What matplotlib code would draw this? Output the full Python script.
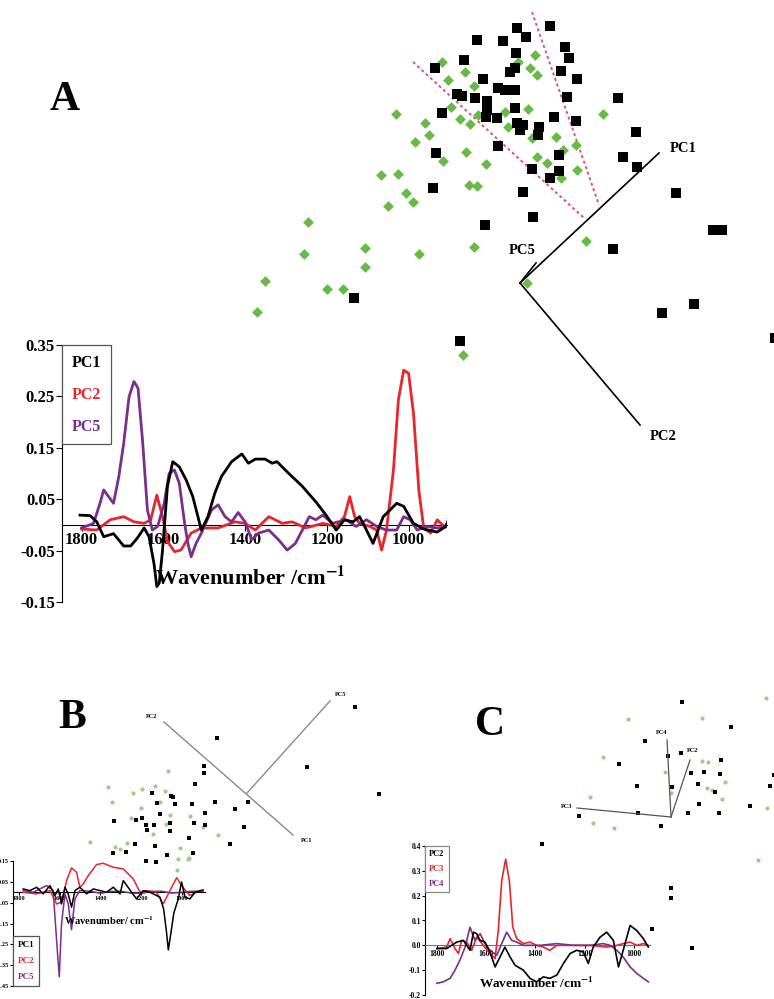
import matplotlib.pyplot as plt
from matplotlib.lines import Line2D

plt.rcParams['font.family'] = ['Liberation Serif', 'DejaVu Serif']
plt.rcParams['font.weight'] = 'bold'
plt.rcParams['mathtext.fontset'] = 'stix'

RED = '#e8262c'
PURPLE = '#7a2f8f'
GREEN_A = '#66bb44'
GREEN_BC = '#9ccf7e'

# ---------------- panel A : scores (PC1/PC2/PC5 biplot frame) ----------------
a_black_x = [517, 526, 550, 477, 503, 565, 569, 516, 464, 435, 515, 510, 561, 577, 483,
             498, 505, 515, 457, 462, 475, 487, 567, 618, 515, 487, 442, 486, 497, 554,
             576, 517, 523, 520, 539, 538, 636, 498, 436, 559, 623, 637, 532, 559, 550,
             433, 676, 523, 533, 485, 713, 722, 613, 662, 694, 460, 775, 354]
a_black_y = [28, 37, 26, 40, 41, 47, 58, 53, 60, 68, 68, 72, 71, 79, 79,
             88, 90, 90, 94, 96, 98, 101, 97, 98, 108, 110, 113, 117, 118, 117,
             121, 123, 125, 130, 127, 135, 132, 146, 153, 155, 157, 167, 169, 171, 178,
             188, 193, 192, 217, 225, 230, 230, 249, 313, 304, 341, 338, 298]
a_green_x = [442, 465, 448, 474, 518, 535, 530, 537, 396, 425, 429, 415, 451, 460, 470,
             478, 505, 528, 508, 532, 556, 576, 563, 537, 547, 577, 561, 466, 443, 486,
             603, 381, 398, 469, 477, 406, 413, 388, 365, 419, 474, 365, 586, 527, 308,
             304, 265, 327, 343, 257, 463]
a_green_y = [62, 72, 80, 86, 62, 55, 68, 75, 114, 123, 135, 142, 107, 119, 124,
             115, 112, 109, 127, 138, 137, 145, 150, 157, 163, 170, 178, 152, 161, 164,
             114, 175, 174, 185, 186, 193, 202, 206, 248, 254, 247, 267, 241, 283, 222,
             254, 281, 289, 289, 312, 355]
# loading vectors of the biplot (origin, then tips for PC1, PC5, PC2)
a_bi_x = [520, 659, 536, 640]
a_bi_y = [283, 153, 263, 425]
a_bi_names = ['PC1', 'PC5', 'PC2']
# class-separating dotted lines
a_sep1_x, a_sep1_y = [413, 584], [62, 218]
a_sep2_x, a_sep2_y = [532, 599], [12, 205]

# ---------------- panel A : loadings ----------------
a_pc1_wn = [1804, 1779, 1763, 1746, 1722, 1697, 1680, 1664, 1647, 1635, 1623, 1616, 1610,
            1602, 1590, 1577, 1561, 1544, 1528, 1507, 1491, 1474, 1458, 1433, 1408, 1392,
            1375, 1351, 1334, 1322, 1293, 1260, 1227, 1202, 1177, 1157, 1136, 1120, 1103,
            1087, 1062, 1029, 1012, 988, 963, 930, 909, 898]
a_pc1 = [0.019, 0.018, 0.006, -0.023, -0.017, -0.041, -0.041, -0.026, -0.006, -0.023,
         -0.075, -0.120, -0.113, -0.049, 0.075, 0.123, 0.113, 0.087, 0.055, -0.010, 0.016,
         0.062, 0.094, 0.123, 0.138, 0.120, 0.128, 0.128, 0.120, 0.123, 0.100, 0.075,
         0.045, 0.019, -0.010, 0.010, 0.006, 0.016, -0.010, -0.036, 0.016, 0.042, 0.036,
         0.003, -0.008, -0.014, -0.003, 0.019]
a_pc2_wn = [1800, 1763, 1730, 1697, 1672, 1647, 1631, 1616, 1602, 1590, 1573, 1557, 1532,
            1507, 1466, 1425, 1400, 1375, 1342, 1309, 1285, 1252, 1210, 1177, 1157, 1144,
            1132, 1120, 1095, 1078, 1066, 1054, 1037, 1025, 1012, 1000, 988, 975, 963, 946,
            930, 913, 898]
a_pc2 = [-0.008, -0.010, 0.010, 0.016, 0.006, 0.003, 0.010, 0.058, 0.016, -0.032, -0.052,
         -0.049, -0.016, -0.006, -0.006, 0.006, 0.003, -0.010, 0.016, 0.003, 0.006, -0.006,
         0.003, -0.003, 0.016, 0.055, 0.016, 0.003, -0.003, -0.010, -0.049, -0.010, 0.107,
         0.243, 0.301, 0.295, 0.217, 0.068, -0.006, -0.016, 0.010, -0.003, 0.003]
a_pc5_wn = [1800, 1771, 1755, 1746, 1734, 1722, 1709, 1697, 1684, 1672, 1662, 1651, 1639,
            1627, 1614, 1598, 1586, 1573, 1561, 1548, 1540, 1532, 1520, 1507, 1482, 1466,
            1449, 1433, 1417, 1400, 1384, 1367, 1342, 1318, 1297, 1277, 1260, 1243, 1227,
            1210, 1186, 1153, 1128, 1103, 1078, 1054, 1029, 1012, 996, 979, 955, 930, 901]
a_pc5 = [-0.006, 0.003, 0.042, 0.068, 0.055, 0.042, 0.094, 0.159, 0.249, 0.279, 0.266,
         0.165, 0.029, -0.010, -0.003, 0.042, 0.100, 0.107, 0.081, 0.003, -0.036, -0.062,
         -0.036, -0.016, 0.029, 0.039, 0.016, 0.006, 0.024, 0.006, -0.029, -0.016, -0.010,
         -0.029, -0.049, -0.036, -0.010, 0.016, 0.010, 0.019, 0.003, 0.010, -0.003, 0.010,
         -0.003, -0.010, -0.010, 0.016, 0.010, -0.010, -0.003, -0.006, -0.003]

# ---------------- panel B ----------------
b_black_x = [355, 217, 307, 379, 204, 204, 195, 152, 171, 173, 157, 175, 192, 215, 248,
             235, 205, 160, 114, 136, 142, 146, 154, 170, 194, 205, 244, 147, 170, 189,
             230, 135, 155, 113, 126, 167, 193, 146, 156]
b_black_y = [707, 738, 767, 794, 766, 773, 784, 793, 796, 797, 803, 804, 804, 802, 802,
             809, 813, 814, 821, 820, 818, 825, 825, 823, 823, 825, 827, 830, 831, 838,
             844, 844, 846, 853, 852, 855, 853, 861, 862]
b_green_x = [168, 108, 112, 133, 142, 155, 165, 141, 160, 131, 170, 190, 203, 153, 166,
             218, 90, 115, 127, 180, 178, 188, 177, 120, 189]
b_green_y = [771, 787, 802, 793, 789, 786, 791, 808, 802, 818, 815, 816, 827, 834, 824,
             835, 842, 847, 843, 848, 859, 859, 870, 849, 858]
# biplot: PC2 tip -> PC1 tip line, and PC5 from its base
b_bi_x = [164, 293, 247, 330]
b_bi_y = [722, 835, 793, 701]

b_pc1_wn = [1779, 1746, 1713, 1681, 1648, 1623, 1607, 1591, 1574, 1558, 1542, 1525, 1501,
            1468, 1435, 1403, 1370, 1337, 1304, 1288, 1247, 1223, 1190, 1157, 1108, 1090,
            1076, 1067, 1055, 1040, 1018, 1002, 985, 961, 936, 897]
b_pc1 = [0.016, 0.008, 0.024, -0.008, 0.032, -0.016, 0.016, -0.056, 0.024, -0.008, -0.072,
         0.008, 0.024, -0.008, 0.016, 0.008, 0.0, 0.024, -0.008, 0.056, 0.0, -0.032, 0.008,
         0.0, -0.024, -0.08, -0.19, -0.277, -0.2, -0.1, -0.032, 0.05, -0.024, -0.032, 0.0,
         0.011]
b_pc2_wn = [1779, 1713, 1648, 1615, 1591, 1566, 1542, 1517, 1501, 1484, 1460, 1419, 1386,
            1337, 1288, 1239, 1206, 1174, 1125, 1092, 1059, 1026, 1002, 961, 915, 897]
b_pc2 = [0.0, -0.008, 0.008, -0.056, -0.048, 0.056, 0.117, 0.096, 0.024, 0.04, 0.08, 0.133,
         0.139, 0.12, 0.112, 0.064, 0.0, 0.008, 0.0, -0.056, 0.008, 0.07, 0.032, -0.016,
         0.008, 0.008]
b_pc5_wn = [1779, 1730, 1664, 1632, 1615, 1602, 1591, 1574, 1558, 1542, 1525, 1501, 1450,
            1400, 1350, 1300, 1250, 1200, 1150, 1100, 1050, 1000, 950, 897]
b_pc5 = [0.008, 0.0, 0.032, 0.008, -0.232, -0.406, -0.152, -0.008, -0.056, -0.18, -0.032,
         0.008, 0.005, -0.005, 0.004, 0.005, -0.004, -0.005, 0.004, 0.005, -0.004, 0.0,
         0.005, 0.004]

# ---------------- panel C ----------------
c_black_x = [682, 731, 645, 619, 668, 681, 721, 691, 704, 720, 774, 637, 672, 698, 715,
             770, 699, 750, 638, 688, 719, 579, 661, 542, 671, 671, 652, 692]
c_black_y = [702, 727, 741, 764, 756, 753, 760, 773, 772, 774, 775, 786, 787, 784, 792,
             786, 804, 806, 813, 813, 813, 816, 826, 844, 888, 898, 929, 948]
c_green_x = [766, 628, 702, 603, 665, 702, 708, 725, 707, 712, 671, 590, 722, 767, 593,
             614, 758]
c_green_y = [698, 719, 718, 757, 772, 761, 762, 782, 788, 790, 793, 797, 799, 808, 823,
             828, 860]
# biplot origin, then tips for PC3, PC4, PC2
c_bi_x = [671, 577, 667, 690]
c_bi_y = [817, 808, 740, 760]
c_bi_names = ['PC3', 'PC4', 'PC2']

c_pc2_wn = [1801, 1761, 1720, 1693, 1666, 1652, 1639, 1625, 1605, 1585, 1564, 1544, 1524,
            1503, 1483, 1449, 1422, 1395, 1368, 1341, 1313, 1286, 1259, 1232, 1205, 1185,
            1165, 1137, 1110, 1083, 1062, 1043, 1015, 988, 961, 941]
c_pc2 = [-0.013, -0.013, 0.013, 0.02, -0.02, 0.053, 0.047, 0.02, 0.013, -0.027, -0.087,
         -0.047, -0.007, -0.047, -0.08, -0.1, -0.133, -0.147, -0.127, -0.133, -0.12, -0.073,
         -0.033, -0.02, -0.027, -0.073, -0.007, 0.033, 0.053, 0.02, -0.087, -0.02, 0.08,
         0.06, 0.027, -0.007]
c_pc3_wn = [1801, 1761, 1747, 1727, 1713, 1700, 1679, 1659, 1639, 1612, 1585, 1564, 1551,
            1537, 1521, 1506, 1492, 1476, 1449, 1422, 1395, 1368, 1341, 1313, 1246, 1178,
            1110, 1069, 1043, 1015, 988, 961, 941]
c_pc3 = [-0.013, -0.007, 0.027, -0.013, -0.033, 0.02, 0.013, -0.02, 0.033, 0.0, -0.033,
         -0.053, 0.06, 0.26, 0.347, 0.26, 0.073, 0.027, 0.007, 0.013, 0.0, -0.007, -0.02,
         0.0, 0.0, 0.0, -0.007, 0.0, 0.007, 0.013, 0.0, 0.007, 0.0]
c_pc4_wn = [1801, 1774, 1747, 1727, 1707, 1686, 1666, 1646, 1625, 1605, 1585, 1557, 1537,
            1517, 1496, 1476, 1449, 1381, 1313, 1246, 1178, 1124, 1097, 1069, 1043, 1015,
            988, 961, 941]
c_pc4 = [-0.153, -0.147, -0.133, -0.1, -0.06, -0.007, 0.073, 0.02, 0.047, 0.007, -0.02,
         -0.04, 0.007, 0.053, 0.02, 0.013, 0.0, 0.0, 0.007, 0.0, 0.0, 0.007, 0.0, -0.02,
         -0.047, -0.087, -0.113, -0.133, -0.147]

W, H = 774, 999
fig = plt.figure(figsize=(W / 100, H / 100), dpi=100)


def px_axes(x0, y0, x1, y1):
    return fig.add_axes([x0 / W, 1 - y1 / H, (x1 - x0) / W, (y1 - y0) / H])


bg = px_axes(0, 0, W, H)
bg.set_xlim(0, W)
bg.set_ylim(H, 0)
bg.axis('off')

# panel letters
bg.text(65, 100, 'A', fontsize=30, ha='center', va='center')
bg.text(72, 718, 'B', fontsize=30, ha='center', va='center')
bg.text(490, 725, 'C', fontsize=30, ha='center', va='center')

# A scores
bg.plot(a_sep1_x, a_sep1_y, ls=(0, (1.5, 1.5)), color='#e0507a', lw=1.4)
bg.plot(a_sep2_x, a_sep2_y, ls=(0, (1.5, 1.5)), color='#e0507a', lw=1.4)
bg.scatter(a_green_x, a_green_y, marker='D', s=30, color=GREEN_A, lw=0, zorder=3)
bg.scatter(a_black_x, a_black_y, marker='s', s=50, color='black', lw=0, zorder=3)
for i in range(1, 4):
    bg.plot([a_bi_x[0], a_bi_x[i]], [a_bi_y[0], a_bi_y[i]], color='black', lw=1.2, zorder=4)
bg.text(670, 148, a_bi_names[0], fontsize=10.5, va='center')
bg.text(522, 251, a_bi_names[1], fontsize=10.5, ha='center', va='center')
bg.text(650, 437, a_bi_names[2], fontsize=10.5, va='center')

# B scores
bg.scatter(b_green_x, b_green_y, marker='o', s=9, color=GREEN_BC, lw=0, zorder=3)
bg.scatter(b_black_x, b_black_y, marker='s', s=12, color='black', lw=0, zorder=3)
bg.plot(b_bi_x[:2], b_bi_y[:2], color='#8a8a8a', lw=1.0)
bg.plot(b_bi_x[2:], b_bi_y[2:], color='#8a8a8a', lw=1.0)
bg.text(152, 717, 'PC2', fontsize=4.5, ha='center', va='center')
bg.text(307, 840, 'PC1', fontsize=4.5, ha='center', va='center')
bg.text(341, 694, 'PC5', fontsize=4.5, ha='center', va='center')

# C scores
bg.scatter(c_green_x, c_green_y, marker='o', s=9, color=GREEN_BC, lw=0, zorder=3)
bg.scatter(c_black_x, c_black_y, marker='s', s=12, color='black', lw=0, zorder=3)
for i in range(1, 4):
    bg.plot([c_bi_x[0], c_bi_x[i]], [c_bi_y[0], c_bi_y[i]], color='#555555', lw=0.9, zorder=4)
bg.text(572, 807, c_bi_names[0], fontsize=4.5, ha='right', va='center')
bg.text(662, 733, c_bi_names[1], fontsize=4.5, ha='center', va='center')
bg.text(687, 750, c_bi_names[2], fontsize=4.5, ha='left', va='center')


def style_spectrum(ax, yticks, ylabels, xticks, fs, tick_len):
    ax.patch.set_alpha(0)
    ax.spines['top'].set_visible(False)
    ax.spines['right'].set_visible(False)
    ax.spines['bottom'].set_position(('data', 0))
    ax.set_yticks(yticks)
    ax.set_yticklabels(ylabels)
    ax.set_xticks(xticks)
    ax.set_xticklabels([str(t) for t in xticks])
    ax.tick_params(axis='both', direction='out', length=tick_len, labelsize=fs, pad=1)
    for lab in ax.get_xticklabels() + ax.get_yticklabels():
        lab.set_fontweight('bold')


def add_legend(ax, labels, colors, fs, loc, edge, spacing, pad):
    handles = [Line2D([], [], color=c, lw=0) for c in colors]
    leg = ax.legend(handles, labels, loc=loc, bbox_to_anchor=(0, 1) if 'upper' in loc else (0, 0),
                    borderaxespad=0, handlelength=0, handletextpad=0, labelcolor=colors,
                    fancybox=False, framealpha=1, edgecolor=edge, labelspacing=spacing,
                    borderpad=pad, prop={'size': fs, 'weight': 'bold'})
    leg.get_frame().set_linewidth(0.9)


# A loadings
axA = px_axes(62, 345, 447, 602)
axA.set_xlim(1848, 906)
axA.set_ylim(-0.15, 0.35)
style_spectrum(axA, [0.35, 0.25, 0.15, 0.05, -0.05, -0.15],
               ['0.35', '0.25', '0.15', '0.05', '-0.05', '-0.15'],
               [1800, 1600, 1400, 1200, 1000], 12, 4)
axA.plot(a_pc2_wn, a_pc2, color=RED, lw=2.0, zorder=3)
axA.plot(a_pc5_wn, a_pc5, color=PURPLE, lw=2.0, zorder=3)
axA.plot(a_pc1_wn, a_pc1, color='black', lw=2.0, zorder=4)
axA.text(1388, -0.104, 'Wavenumber /cm$^{\\mathbf{-1}}$', fontsize=16, ha='center', va='center')
add_legend(axA, ['PC1', 'PC2', 'PC5'], ['black', RED, PURPLE], 11.5, 'upper left', '#555555', 1.0, 0.6)

# B loadings
axB = px_axes(13, 861, 205, 986)
axB.set_xlim(1829, 887)
axB.set_ylim(-0.45, 0.15)
style_spectrum(axB, [0.15, 0.05, -0.05, -0.15, -0.25, -0.35, -0.45],
               ['0.15', '0.05', '-0.05', '-0.15', '-0.25', '-0.35', '-0.45'],
               [1800, 1600, 1400, 1200, 1000], 4.5, 2)
axB.plot(b_pc2_wn, b_pc2, color=RED, lw=1.1, zorder=3)
axB.plot(b_pc5_wn, b_pc5, color=PURPLE, lw=1.1, zorder=3)
axB.plot(b_pc1_wn, b_pc1, color='black', lw=1.1, zorder=4)
axB.text(1360, -0.135, 'Wavenumber/ cm$^{\\mathbf{-1}}$', fontsize=7.5, ha='center', va='center')
add_legend(axB, ['PC1', 'PC2', 'PC5'], ['black', RED, PURPLE], 6.5, 'lower left', '#555555', 0.9, 0.5)

# C loadings
axC = px_axes(425, 846, 650, 995)
axC.set_xlim(1849, 934)
axC.set_ylim(-0.2, 0.4)
style_spectrum(axC, [0.4, 0.3, 0.2, 0.1, 0.0, -0.1, -0.2],
               ['0.4', '0.3', '0.2', '0.1', '0.0', '-0.1', '-0.2'],
               [1800, 1600, 1400, 1200, 1000], 5.5, 2)
axC.spines['bottom'].set_color('#5a7f84')
axC.plot(c_pc3_wn, c_pc3, color=RED, lw=1.2, zorder=3)
axC.plot(c_pc4_wn, c_pc4, color=PURPLE, lw=1.2, zorder=3)
axC.plot(c_pc2_wn, c_pc2, color='black', lw=1.2, zorder=4)
axC.text(1395, -0.152, 'Wavenumber /cm$^{\\mathbf{-1}}$', fontsize=9.5, ha='center', va='center')
add_legend(axC, ['PC2', 'PC3', 'PC4'], ['black', RED, PURPLE], 6, 'upper left', '#888888', 0.8, 0.5)

fig.savefig('out.png', dpi=100)
